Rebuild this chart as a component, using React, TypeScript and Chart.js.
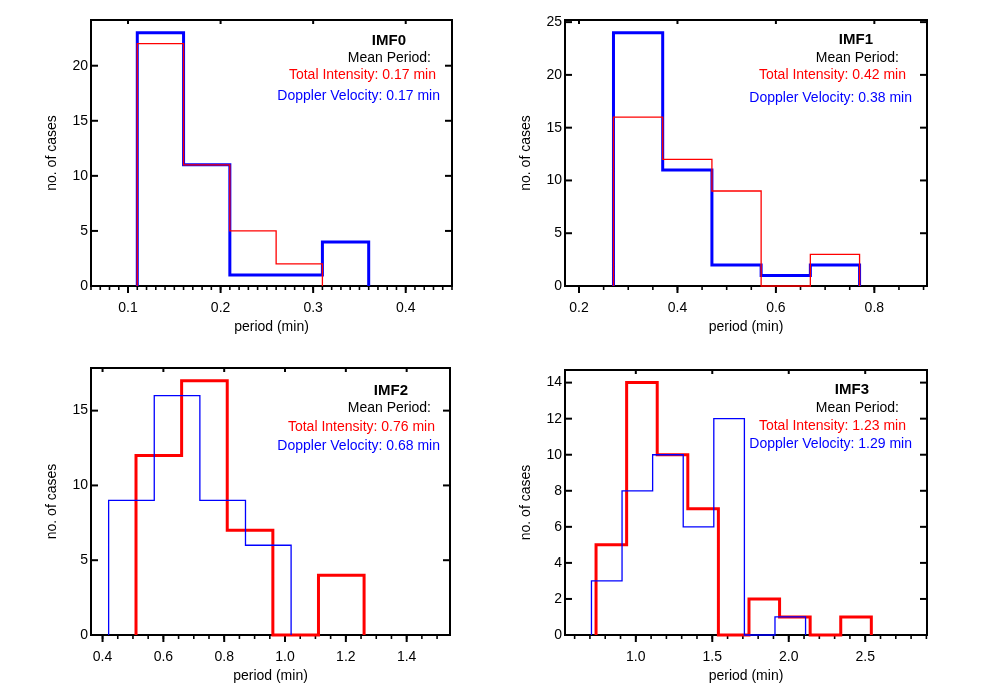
import React, { useEffect, useRef } from "react";
import { Chart, registerables } from "chart.js";

Chart.register(...registerables);

// ---------------- data ----------------
const imfNames = ["IMF0", "IMF1", "IMF2", "IMF3"];
const meanIntensity = [0.17, 0.42, 0.76, 1.23];
const meanDoppler = [0.17, 0.38, 0.68, 1.29];

const imf0IntensityEdges = [0.11, 0.16, 0.21, 0.26, 0.31];
const imf0IntensityCounts = [22, 11, 5, 2];
const imf0DopplerEdges = [0.11, 0.16, 0.21, 0.26, 0.31, 0.36];
const imf0DopplerCounts = [23, 11, 1, 1, 4];

const imf1IntensityEdges = [0.27, 0.37, 0.47, 0.57, 0.67, 0.77];
const imf1IntensityCounts = [16, 12, 9, 0, 3];
const imf1DopplerEdges = [0.27, 0.37, 0.47, 0.57, 0.67, 0.77];
const imf1DopplerCounts = [24, 11, 2, 1, 2];

const imf2IntensityEdges = [0.51, 0.66, 0.81, 0.96, 1.11, 1.26];
const imf2IntensityCounts = [12, 17, 7, 0, 4];
const imf2DopplerEdges = [0.42, 0.57, 0.72, 0.87, 1.02];
const imf2DopplerCounts = [9, 16, 9, 6];

const imf3IntensityEdges = [0.74, 0.94, 1.14, 1.34, 1.54, 1.74, 1.94, 2.14, 2.34, 2.54];
const imf3IntensityCounts = [5, 14, 10, 7, 0, 2, 1, 0, 1];
const imf3DopplerEdges = [0.71, 0.91, 1.11, 1.31, 1.51, 1.71, 1.91, 2.11];
const imf3DopplerCounts = [3, 8, 10, 6, 12, 0, 1];

const xMins = [0.06, 0.1715, 0.362, 0.537];
const xMaxs = [0.45, 0.907, 1.5425, 2.904];
const xMajorSteps = [0.1, 0.2, 0.2, 0.5];
const xMinorSteps = [0.01, 0.05, 0.05, 0.1];
const yMaxs = [24.15, 25.2, 17.85, 14.7];
const yTickSteps = [5, 5, 5, 2];

const xAxisTitle = "period (min)";
const yAxisTitle = "no. of cases";

// ---------------- layout ----------------
const FONT = "'Liberation Sans', Arial, Helvetica, sans-serif";
const RED = "#ff0000";
const BLUE = "#0000ff";

type Layout = {
  left: number; top: number; w: number; h: number;
  padT: number; padR: number;
  text: { dx: number; dy: number }[];
};

const layouts: Layout[] = [
  { left: 0, top: 0, w: 474, h: 344, padT: 20, padR: 22,
    text: [{ dx: -46, dy: 21 }, { dx: -21, dy: 38 }, { dx: -16, dy: 55 }, { dx: -12, dy: 76 }] },
  { left: 474, top: 0, w: 507, h: 344, padT: 20, padR: 54,
    text: [{ dx: -54, dy: 20 }, { dx: -28, dy: 38 }, { dx: -21, dy: 55 }, { dx: -15, dy: 78 }] },
  { left: 0, top: 348, w: 474, h: 345, padT: 20, padR: 24,
    text: [{ dx: -42, dy: 23 }, { dx: -19, dy: 40 }, { dx: -15, dy: 59 }, { dx: -10, dy: 78 }] },
  { left: 474, top: 348, w: 507, h: 345, padT: 22, padR: 54,
    text: [{ dx: -58, dy: 20 }, { dx: -28, dy: 38 }, { dx: -21, dy: 56 }, { dx: -15, dy: 74 }] },
];

type Hist = { edges: number[]; counts: number[] };
const panelData: { intensity: Hist; doppler: Hist; thick: "intensity" | "doppler" }[] = [
  { intensity: { edges: imf0IntensityEdges, counts: imf0IntensityCounts }, doppler: { edges: imf0DopplerEdges, counts: imf0DopplerCounts }, thick: "doppler" },
  { intensity: { edges: imf1IntensityEdges, counts: imf1IntensityCounts }, doppler: { edges: imf1DopplerEdges, counts: imf1DopplerCounts }, thick: "doppler" },
  { intensity: { edges: imf2IntensityEdges, counts: imf2IntensityCounts }, doppler: { edges: imf2DopplerEdges, counts: imf2DopplerCounts }, thick: "intensity" },
  { intensity: { edges: imf3IntensityEdges, counts: imf3IntensityCounts }, doppler: { edges: imf3DopplerEdges, counts: imf3DopplerCounts }, thick: "intensity" },
];

function stepPoints(h: Hist) {
  const pts: { x: number; y: number }[] = [{ x: h.edges[0], y: 0 }];
  h.counts.forEach((c, i) => {
    pts.push({ x: h.edges[i], y: c });
    pts.push({ x: h.edges[i + 1], y: c });
  });
  pts.push({ x: h.edges[h.edges.length - 1], y: 0 });
  return pts;
}

const idlAxes = {
  id: "idlAxes",
  beforeDatasetsDraw(chart: any, _args: any, opts: any) {
    const { ctx, chartArea: a, scales } = chart;
    const xs = scales.x;
    const ys = scales.y;
    const line = (x1: number, y1: number, x2: number, y2: number) => {
      ctx.beginPath();
      ctx.moveTo(x1, y1);
      ctx.lineTo(x2, y2);
      ctx.stroke();
    };
    ctx.save();
    ctx.strokeStyle = "#000";
    ctx.lineWidth = 2;
    ctx.strokeRect(a.left, a.top, a.right - a.left, a.bottom - a.top);
    ys.ticks.forEach((t: any) => {
      const py = ys.getPixelForValue(t.value);
      line(a.left, py, a.left + 7, py);
      line(a.right, py, a.right - 7, py);
    });
    xs.ticks.forEach((t: any) => {
      const px = xs.getPixelForValue(t.value);
      line(px, a.bottom, px, a.bottom + 7);
      line(px, a.top, px, a.top + 4);
    });
    const m = opts.minor as number;
    const k0 = Math.ceil(xs.min / m - 1e-6);
    const k1 = Math.floor(xs.max / m + 1e-6);
    ctx.lineWidth = 1.6;
    for (let k = k0; k <= k1; k++) {
      const px = xs.getPixelForValue(k * m);
      line(px, a.bottom, px, a.bottom + 4);
    }
    ctx.restore();
  },
  afterDraw(chart: any, _args: any, opts: any) {
    const { ctx, chartArea: a } = chart;
    ctx.save();
    ctx.textAlign = "right";
    ctx.textBaseline = "middle";
    (opts.lines || []).forEach((l: any) => {
      ctx.font = l.font;
      ctx.fillStyle = l.color;
      ctx.fillText(l.text, a.right + l.dx, a.top + l.dy);
    });
    ctx.restore();
  },
};

function Panel({ idx }: { idx: number }) {
  const ref = useRef<HTMLCanvasElement>(null);
  const L = layouts[idx];
  useEffect(() => {
    const d = panelData[idx];
    const thickI = d.thick === "intensity";
    const intensityDs = {
      label: "Total Intensity",
      data: stepPoints(d.intensity),
      borderColor: RED,
      borderWidth: thickI ? 3 : 1.3,
      pointRadius: 0,
      tension: 0,
      fill: false,
      clip: false as any,
      order: thickI ? 2 : 1,
    };
    const dopplerDs = {
      label: "Doppler Velocity",
      data: stepPoints(d.doppler),
      borderColor: BLUE,
      borderWidth: thickI ? 1.3 : 3,
      pointRadius: 0,
      tension: 0,
      fill: false,
      clip: false as any,
      order: thickI ? 1 : 2,
    };
    const lines = [
      { text: imfNames[idx], font: `bold 15px ${FONT}`, color: "#000" },
      { text: "Mean Period:", font: `14px ${FONT}`, color: "#000" },
      { text: `Total Intensity: ${meanIntensity[idx].toFixed(2)} min`, font: `14px ${FONT}`, color: RED },
      { text: `Doppler Velocity: ${meanDoppler[idx].toFixed(2)} min`, font: `14px ${FONT}`, color: BLUE },
    ].map((l, i) => ({ ...l, ...L.text[i] }));

    const chart = new Chart(ref.current as HTMLCanvasElement, {
      type: "line",
      data: { datasets: [intensityDs, dopplerDs] as any },
      options: {
        animation: false,
        responsive: false,
        events: [],
        layout: { padding: { left: 10, top: L.padT, right: L.padR, bottom: 0 } },
        plugins: {
          legend: { display: false },
          tooltip: { enabled: false },
          idlAxes: { minor: xMinorSteps[idx], lines },
        } as any,
        scales: {
          x: {
            type: "linear",
            position: "bottom",
            min: xMins[idx],
            max: xMaxs[idx],
            grid: { display: false, drawTicks: false },
            border: { display: false },
            ticks: {
              stepSize: xMajorSteps[idx],
              includeBounds: false,
              autoSkip: false,
              maxRotation: 0,
              padding: 14,
              color: "#000",
              font: { size: 14, family: FONT },
              callback: (v: any) => Number(v).toFixed(1),
            },
            title: {
              display: true,
              text: xAxisTitle,
              color: "#000",
              font: { size: 14, family: FONT },
              padding: { top: 0, bottom: 8 },
            },
            afterFit: (s: any) => { s.height = 58; },
          },
          y: {
            type: "linear",
            position: "left",
            min: 0,
            max: yMaxs[idx],
            grid: { display: false, drawTicks: false },
            border: { display: false },
            ticks: {
              stepSize: yTickSteps[idx],
              includeBounds: false,
              padding: 3,
              color: "#000",
              font: { size: 14, family: FONT },
              callback: (v: any) => String(Math.round(Number(v))),
            },
            title: {
              display: true,
              text: yAxisTitle,
              color: "#000",
              font: { size: 14, family: FONT },
              padding: { top: 34, bottom: 0 },
            },
            afterFit: (s: any) => { s.width = 81; },
          },
        },
      },
      plugins: [idlAxes as any],
    });
    return () => chart.destroy();
  }, [idx]);
  return (
    <canvas
      ref={ref}
      width={L.w}
      height={L.h}
      style={{ position: "absolute", left: L.left, top: L.top, width: L.w, height: L.h }}
    />
  );
}

export default function App() {
  return (
    <div
      style={{
        position: "absolute",
        left: 0,
        top: 0,
        width: 981,
        height: 693,
        overflow: "hidden",
        background: "#fff",
      }}
    >
      {[0, 1, 2, 3].map((i) => (
        <Panel key={i} idx={i} />
      ))}
    </div>
  );
}
